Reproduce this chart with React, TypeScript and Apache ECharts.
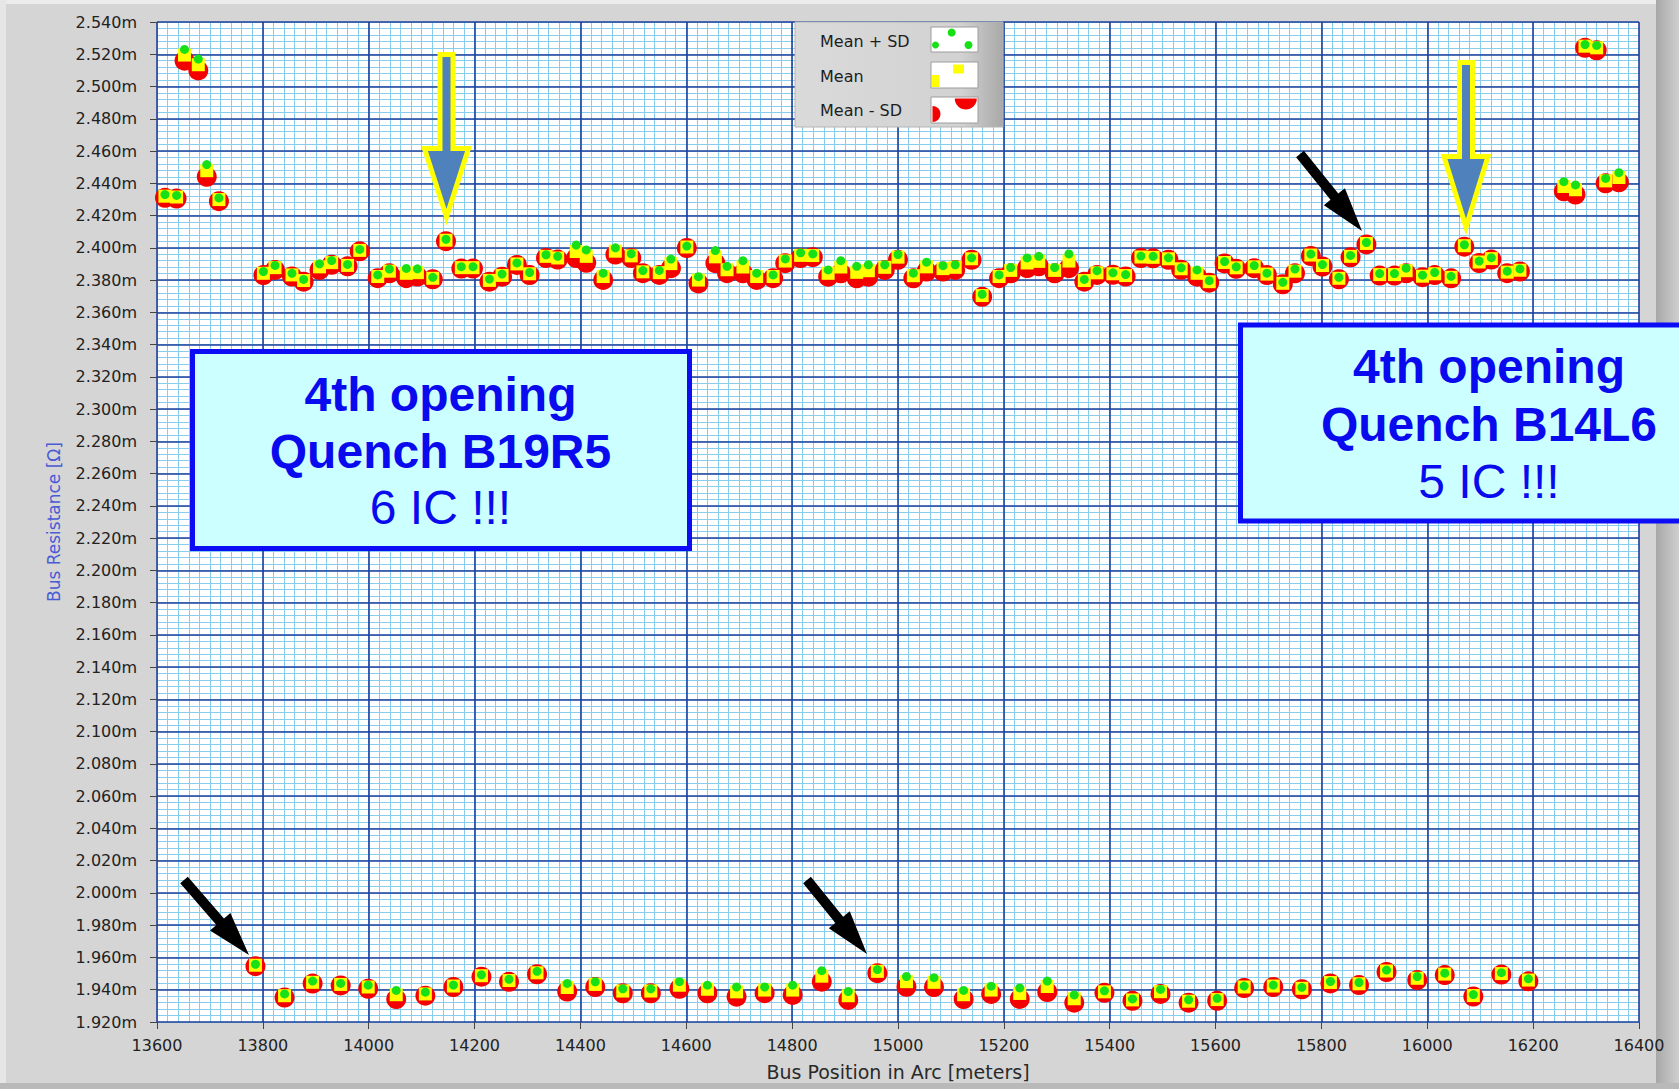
import React, { useEffect, useRef } from "react";
import * as echarts from "echarts";

// ---------------- DATA ----------------
// Left cluster (13600-13720 m)
const leftPos = [13615, 13637, 13652, 13678, 13694, 13717];
const leftMean = [2.432, 2.4315, 2.5195, 2.5135, 2.4478, 2.4299];
const leftSd = [0.001, 0.001, 0.0035, 0.0035, 0.0038, 0.001];

// Upper band (~2.38 - 2.40)
const upperPos = [
  13801, 13823, 13855, 13877, 13907, 13930, 13960, 13983, 14017, 14039,
  14071, 14092, 14121, 14146, 14175, 14197, 14228, 14252, 14280, 14304,
  14335, 14357, 14392, 14411, 14443, 14466, 14496, 14518, 14549, 14571,
  14601, 14623, 14655, 14677, 14707, 14733, 14764, 14787, 14816, 14839,
  14868, 14892, 14922, 14944, 14975, 15000, 15029, 15054, 15085, 15108,
  15139, 15159, 15191, 15213, 15244, 15266, 15296, 15323, 15352, 15376,
  15406, 15430, 15459, 15482, 15511, 15535, 15565, 15588, 15617, 15639,
  15673, 15697, 15727, 15750, 15780, 15802, 15833, 15855, 15885, 15910,
  15938, 15960, 15991, 16014, 16045, 16070, 16098, 16121, 16151, 16175,
];
const upperMean = [
  2.3842, 2.3877, 2.3832, 2.3797, 2.3882, 2.3908, 2.3891, 2.3984, 2.3822, 2.3855,
  2.3842, 2.3846, 2.3811, 2.4047, 2.3877, 2.3877, 2.3798, 2.3829, 2.39, 2.3839,
  2.3947, 2.3937, 2.3977, 2.3947, 2.3822, 2.3979, 2.395, 2.3851, 2.3846, 2.3902,
  2.4005, 2.38, 2.3944, 2.3864, 2.3881, 2.3822, 2.3822, 2.3918, 2.3953, 2.3952,
  2.3842, 2.3881, 2.3848, 2.3858, 2.3879, 2.3942, 2.3827, 2.3882, 2.3871, 2.3879,
  2.3932, 2.3704, 2.3822, 2.386, 2.3906, 2.3916, 2.386, 2.3918, 2.3797, 2.3845,
  2.3839, 2.3828, 2.3943, 2.3941, 2.3932, 2.387, 2.3842, 2.379, 2.3909, 2.3876,
  2.3882, 2.3837, 2.378, 2.3855, 2.3955, 2.389, 2.3811, 2.3947, 2.4027, 2.3834,
  2.3834, 2.3858, 2.3824, 2.3839, 2.3817, 2.4013, 2.3912, 2.3933, 2.3849, 2.3861,
];
const upperSd = [
  0.0011, 0.0014, 0.001, 0.0007, 0.0019, 0.0013, 0.0006, 0.0006, 0.001, 0.0013,
  0.003, 0.0024, 0.0006, 0.0006, 0.0006, 0.0006, 0.0008, 0.0008, 0.0006, 0.0008,
  0.001, 0.001, 0.004, 0.004, 0.0021, 0.0021, 0.0013, 0.0008, 0.0014, 0.0028,
  0.0006, 0.0021, 0.0039, 0.0021, 0.0039, 0.0021, 0.001, 0.0013, 0.0016, 0.001,
  0.0021, 0.0039, 0.0037, 0.0037, 0.0016, 0.0016, 0.0016, 0.0029, 0.0018, 0.0016,
  0.0006, 0.0008, 0.001, 0.0018, 0.0031, 0.0031, 0.0018, 0.0044, 0.0007, 0.0013,
  0.0006, 0.0006, 0.0006, 0.0006, 0.0006, 0.0006, 0.0021, 0.0006, 0.0006, 0.0006,
  0.0008, 0.0006, 0.0006, 0.0013, 0.0006, 0.0006, 0.0006, 0.0006, 0.0006, 0.0006,
  0.0006, 0.0016, 0.0006, 0.0008, 0.0006, 0.0006, 0.0006, 0.0006, 0.0006, 0.0008,
];

// Lower band (~1.93 - 1.955)
const lowerPos = [
  13786, 13841, 13894, 13947, 13999, 14052, 14107, 14160, 14213, 14265,
  14318, 14375, 14428, 14480, 14533, 14587, 14640, 14695, 14748, 14801,
  14856, 14906, 14961, 15016, 15068, 15124, 15176, 15230, 15282, 15333,
  15390, 15443, 15496, 15549, 15603, 15654, 15709, 15763, 15817, 15871,
  15923, 15981, 16033, 16087, 16140, 16191,
];
const lowerMean = [
  1.9552, 1.9363, 1.9446, 1.9433, 1.9417, 1.9369, 1.9374, 1.9423, 1.9487, 1.9457,
  1.9505, 1.9414, 1.9433, 1.9392, 1.9392, 1.9428, 1.9403, 1.9387, 1.9398, 1.9398,
  1.9484, 1.9363, 1.9514, 1.945, 1.9446, 1.9369, 1.9398, 1.9377, 1.942, 1.9344,
  1.9387, 1.9337, 1.9388, 1.9329, 1.9339, 1.9417, 1.9423, 1.9409, 1.9445, 1.9437,
  1.9516, 1.9471, 1.9497, 1.9364, 1.95, 1.946,
];
const lowerSd = [
  0.0006, 0.0011, 0.0008, 0.0006, 0.0011, 0.0027, 0.0011, 0.0006, 0.0006, 0.0008,
  0.0009, 0.0025, 0.0016, 0.0014, 0.0014, 0.0022, 0.0025, 0.003, 0.0019, 0.003,
  0.0034, 0.0026, 0.0011, 0.0032, 0.0029, 0.0027, 0.0024, 0.0034, 0.0034, 0.0024,
  0.0006, 0.0006, 0.0014, 0.0009, 0.0008, 0.0006, 0.0006, 0.0006, 0.0006, 0.0008,
  0.0006, 0.0011, 0.0006, 0.0006, 0.0006, 0.0008,
];

// Right cluster (16250-16370 m)
const rightPos = [16258, 16280, 16298, 16320, 16337, 16362];
const rightMean = [2.438, 2.436, 2.525, 2.524, 2.4415, 2.4436];
const rightSd = [0.003, 0.003, 0.001, 0.0015, 0.0015, 0.003];

// Axes
const X_MIN = 13600;
const X_MAX = 16400;
const X_MAJOR = 200;
const X_MINOR = 20;
const Y_MIN = 1.92;
const Y_MAX = 2.54;
const Y_MAJOR = 0.02;
const Y_MINOR = 0.004;

const SERIES_NAMES = ["Mean + SD", "Mean", "Mean - SD"];
const X_TITLE = "Bus Position in Arc [meters]";
const Y_TITLE = "Bus Resistance [Ω]";

const BOX1 = ["4th opening", "Quench B19R5", "6 IC !!!"];
const BOX2 = ["4th opening", "Quench B14L6", "5 IC !!!"];

// ---------------- helpers ----------------
function blockArrow(x1: number, y1: number, x2: number, y2: number, shaftW: number, headL: number, headW: number) {
  const dx = x2 - x1;
  const dy = y2 - y1;
  const L = Math.hypot(dx, dy);
  const ux = dx / L;
  const uy = dy / L;
  const px = -uy;
  const py = ux;
  const bx = x2 - ux * headL;
  const by = y2 - uy * headL;
  return [
    [x1 + (px * shaftW) / 2, y1 + (py * shaftW) / 2],
    [bx + (px * shaftW) / 2, by + (py * shaftW) / 2],
    [bx + (px * headW) / 2, by + (py * headW) / 2],
    [x2, y2],
    [bx - (px * headW) / 2, by - (py * headW) / 2],
    [bx - (px * shaftW) / 2, by - (py * shaftW) / 2],
    [x1 - (px * shaftW) / 2, y1 - (py * shaftW) / 2],
  ];
}

function downArrow(cx: number, top: number, headTop: number, tip: number) {
  const sw = 6.5;
  const hw = 22;
  return [
    [cx - sw, top + 2.5],
    [cx + sw, top + 2.5],
    [cx + sw, headTop + 2.5],
    [cx + hw, headTop + 2.5],
    [cx, tip - 9],
    [cx - hw, headTop + 2.5],
    [cx - sw, headTop + 2.5],
  ];
}

function boxTexts(lines: string[], cx: number, baselines: number[]) {
  const color = "#0a0aee";
  return lines.map((t, i) => ({
    type: "text",
    z: 101,
    silent: true,
    style: {
      text: t,
      x: cx,
      y: baselines[i] - 16.6,
      align: "center",
      verticalAlign: "middle",
      fill: color,
      fontFamily: "Liberation Sans",
      fontSize: 48,
      fontWeight: i < 2 ? "bold" : "normal",
    },
  }));
}

export default function App() {
  const ref = useRef<HTMLDivElement>(null);

  useEffect(() => {
    document.body.style.margin = "0";
    if (!ref.current) return;
    const chart = echarts.init(ref.current, undefined, { renderer: "svg" });

    const allPos = [...leftPos, ...lowerPos, ...upperPos, ...rightPos];
    const allMean = [...leftMean, ...lowerMean, ...upperMean, ...rightMean];
    const allSd = [...leftSd, ...lowerSd, ...upperSd, ...rightSd];

    const meanPts = allPos.map((p, i) => [p, allMean[i]]);
    const plusPts = allPos.map((p, i) => [p, allMean[i] + allSd[i]]);
    const minusPts = allPos.map((p, i) => [p, allMean[i] - allSd[i]]);

    const font = "DejaVu Sans";

    const legendText = (t: string, y: number) => ({
      type: "text",
      z: 101,
      silent: true,
      style: { text: t, x: 820, y, verticalAlign: "middle", align: "left", fill: "#1e1e1e", fontFamily: font, fontSize: 16 },
    });

    const graphic: any[] = [
      // frame
      { type: "rect", z: -1, silent: true, shape: { x: 0, y: 0, width: 1679, height: 4 }, style: { fill: "#ececec" } },
      { type: "rect", z: -1, silent: true, shape: { x: 0, y: 0, width: 6, height: 1089 }, style: { fill: "#e6e6e6" } },
      {
        type: "rect", z: -1, silent: true,
        shape: { x: 1656, y: 0, width: 23, height: 1089 },
        style: { fill: { type: "linear", x: 0, y: 0, x2: 1, y2: 0, colorStops: [{ offset: 0, color: "#a8a8a8" }, { offset: 1, color: "#cfcfcf" }] } },
      },
      { type: "rect", z: -1, silent: true, shape: { x: 0, y: 1083, width: 1679, height: 6 }, style: { fill: "#b9b9b9" } },

      // legend panel
      {
        type: "rect", z: 100, silent: true,
        shape: { x: 795, y: 22, width: 208, height: 105 },
        style: {
          fill: { type: "linear", x: 0, y: 0, x2: 1, y2: 0, colorStops: [{ offset: 0, color: "#dadada" }, { offset: 0.8, color: "#d2d2d2" }, { offset: 1, color: "#a9a9a9" }] },
          stroke: "#b4b4b4", lineWidth: 1,
        },
      },
      legendText(SERIES_NAMES[0], 41.8),
      legendText(SERIES_NAMES[1], 76.2),
      legendText(SERIES_NAMES[2], 110.5),
      { type: "rect", z: 101, silent: true, shape: { x: 931, y: 27, width: 47, height: 25 }, style: { fill: "#ffffff", stroke: "#9c9c9c", lineWidth: 1 } },
      { type: "rect", z: 101, silent: true, shape: { x: 931, y: 62, width: 47, height: 26 }, style: { fill: "#ffffff", stroke: "#9c9c9c", lineWidth: 1 } },
      { type: "rect", z: 101, silent: true, shape: { x: 931, y: 97, width: 47, height: 26 }, style: { fill: "#ffffff", stroke: "#9c9c9c", lineWidth: 1 } },
      { type: "circle", z: 102, silent: true, shape: { cx: 951.7, cy: 32.5, r: 4 }, style: { fill: "#17e017" } },
      { type: "circle", z: 102, silent: true, shape: { cx: 935.5, cy: 45, r: 3.5 }, style: { fill: "#17e017" } },
      { type: "circle", z: 102, silent: true, shape: { cx: 968.5, cy: 45, r: 4 }, style: { fill: "#17e017" } },
      { type: "rect", z: 102, silent: true, shape: { x: 953, y: 64.5, width: 11, height: 9 }, style: { fill: "#ffff00" } },
      { type: "rect", z: 102, silent: true, shape: { x: 932, y: 75, width: 7, height: 12 }, style: { fill: "#ffff00" } },
      { type: "sector", z: 102, silent: true, shape: { cx: 965.8, cy: 98.5, r0: 0, r: 11, startAngle: 0, endAngle: Math.PI, clockwise: true }, style: { fill: "#f50000" } },
      { type: "sector", z: 102, silent: true, shape: { cx: 932.5, cy: 114, r0: 0, r: 8, startAngle: -Math.PI / 2, endAngle: Math.PI / 2, clockwise: true }, style: { fill: "#f50000" } },

      // annotation boxes
      { type: "rect", z: 100, silent: true, shape: { x: 192.5, y: 351.5, width: 497, height: 197 }, style: { fill: "#ccffff", stroke: "#0c0cf5", lineWidth: 5 } },
      ...boxTexts(BOX1, 440.5, [411, 468, 524]),
      { type: "rect", z: 100, silent: true, shape: { x: 1240.5, y: 325, width: 520, height: 196 }, style: { fill: "#ccffff", stroke: "#0c0cf5", lineWidth: 5 } },
      ...boxTexts(BOX2, 1489, [383, 441, 498]),

      // yellow-outlined down arrows
      { type: "polygon", z: 100, silent: true, shape: { points: downArrow(446.5, 52, 146, 226) }, style: { fill: "#4f81bd", stroke: "#ffff00", lineWidth: 5, lineJoin: "miter", miterLimit: 10 } },
      { type: "polygon", z: 100, silent: true, shape: { points: downArrow(1466, 60, 154, 236) }, style: { fill: "#4f81bd", stroke: "#ffff00", lineWidth: 5, lineJoin: "miter", miterLimit: 10 } },

      // black arrows
      { type: "polygon", z: 100, silent: true, shape: { points: blockArrow(184, 880, 249, 955, 10, 44, 27) }, style: { fill: "#000000" } },
      { type: "polygon", z: 100, silent: true, shape: { points: blockArrow(807, 880, 867, 954, 10, 44, 27) }, style: { fill: "#000000" } },
      { type: "polygon", z: 100, silent: true, shape: { points: blockArrow(1300, 154, 1362, 231, 10, 44, 27) }, style: { fill: "#000000" } },
    ];

    const hidden = { show: false };

    const option: any = {
      animation: false,
      backgroundColor: "#d5d5d5",
      grid: { left: 157, top: 22, width: 1482, height: 1000, show: true, backgroundColor: "#ffffff", borderWidth: 0 },
      xAxis: [
        {
          type: "value", min: X_MIN, max: X_MAX, interval: X_MAJOR, z: 2,
          name: X_TITLE, nameLocation: "middle", nameGap: 40,
          nameTextStyle: { fontFamily: font, fontSize: 19, color: "#2a2a2a" },
          axisLine: { show: false },
          axisTick: { show: true, length: 7, lineStyle: { color: "#444", width: 1 } },
          axisLabel: { fontFamily: font, fontSize: 16, color: "#222", margin: 15, formatter: (v: number) => String(Math.round(v)) },
          splitLine: { show: true, lineStyle: { color: "#1d3f9e", width: 1.6 } },
        },
        {
          type: "value", min: X_MIN, max: X_MAX, interval: X_MINOR, z: 1,
          axisLine: hidden, axisTick: hidden, axisLabel: hidden,
          splitLine: { show: true, lineStyle: { color: "#88cdeb", width: 1 } },
        },
      ],
      yAxis: [
        {
          type: "value", min: Y_MIN, max: Y_MAX, interval: Y_MAJOR, z: 2,
          name: Y_TITLE, nameLocation: "middle", nameGap: 95,
          nameTextStyle: { fontFamily: font, fontSize: 17, color: "#4a5bd4" },
          axisLine: { show: false },
          axisTick: { show: true, length: 7, lineStyle: { color: "#444", width: 1 } },
          axisLabel: { fontFamily: font, fontSize: 16, color: "#222", margin: 20, formatter: (v: number) => v.toFixed(3) + "m" },
          splitLine: { show: true, lineStyle: { color: "#1d3f9e", width: 1.6 } },
        },
        {
          type: "value", min: Y_MIN, max: Y_MAX, interval: Y_MINOR, z: 1, position: "right",
          axisLine: hidden, axisTick: hidden, axisLabel: hidden,
          splitLine: { show: true, lineStyle: { color: "#88cdeb", width: 1 } },
        },
      ],
      series: [
        {
          name: SERIES_NAMES[2], type: "scatter", xAxisIndex: 0, yAxisIndex: 0, z: 3, silent: true,
          symbol: "circle", symbolSize: 20, itemStyle: { color: "#f50000", opacity: 1 }, data: minusPts,
        },
        {
          name: SERIES_NAMES[1], type: "scatter", xAxisIndex: 0, yAxisIndex: 0, z: 4, silent: true,
          symbol: "rect", symbolSize: 13, itemStyle: { color: "#ffff00", opacity: 1 }, data: meanPts,
        },
        {
          name: SERIES_NAMES[0], type: "scatter", xAxisIndex: 0, yAxisIndex: 0, z: 5, silent: true,
          symbol: "circle", symbolSize: 9, itemStyle: { color: "#17e017", opacity: 1 }, data: plusPts,
        },
      ],
      graphic,
    };

    chart.setOption(option);
    return () => chart.dispose();
  }, []);

  return <div ref={ref} style={{ width: 1679, height: 1089 }} />;
}
